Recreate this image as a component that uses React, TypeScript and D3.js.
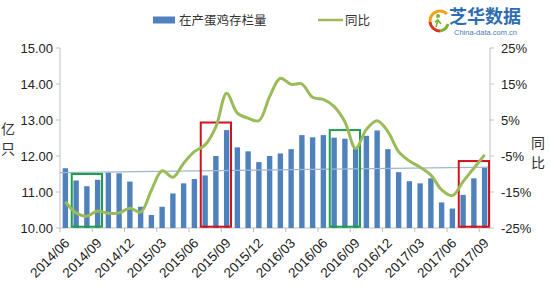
import React from "react";
import * as d3 from "d3";

const months = [
  "2014/06","2014/07","2014/08","2014/09","2014/10","2014/11","2014/12",
  "2015/01","2015/02","2015/03","2015/04","2015/05","2015/06","2015/07","2015/08","2015/09","2015/10","2015/11","2015/12",
  "2016/01","2016/02","2016/03","2016/04","2016/05","2016/06","2016/07","2016/08","2016/09","2016/10","2016/11","2016/12",
  "2017/01","2017/02","2017/03","2017/04","2017/05","2017/06","2017/07","2017/08","2017/09",
];

const stock = [
  11.66, 11.32, 11.16, 11.34, 11.54, 11.52, 11.29,
  10.59, 10.36, 10.59, 10.96, 11.24, 11.36, 11.46, 12.0, 12.72, 12.24, 12.13, 11.83,
  12.0, 12.07, 12.19, 12.58, 12.52, 12.58, 12.51, 12.48, 12.21, 12.56, 12.71, 12.19,
  11.55, 11.3, 11.24, 11.38, 10.71, 10.54, 10.92, 11.38, 11.68,
];

const yoy = [
  -17.7, -20.8, -21.7, -20.3, -20.9, -20.8, -19.5,
  -20.6, -14.5, -9.1, -10.9, -7.0, -3.8, -1.9, 3.1, 12.4, 6.9, 5.5, 4.8,
  11.5, 16.6, 14.9, 15.0, 11.3, 10.7, 8.7, 4.5, -2.9, 2.4, 4.8, 1.8,
  -3.8, -6.4, -8.1, -10.3, -14.4, -16.0, -12.1, -8.4, -4.7,
];

const leftTicks = [10, 11, 12, 13, 14, 15];
const rightTicks = [-25, -15, -5, 5, 15, 25];
const labelEvery = 3;

// trend line endpoints (left edge value, right edge value)
const trendEnds = [11.54, 11.69];

// highlight boxes: first category, last category, top value, color
const boxStart = [1, 13, 25, 37];
const boxEnd = [3, 15, 27, 39];
const boxTop = [11.5, 12.93, 12.72, 11.86];
const boxColor = ["#1E9E4A", "#D0141E", "#1E9E4A", "#D0141E"];

const W = 550, H = 300;
const L = 60, R = 490, T = 48, B = 228;

export default function App() {
  const x = d3.scaleBand<string>().domain(months).range([L, R]).paddingInner(0.5).paddingOuter(0.25);
  const step = x.step();
  const cx = (m: string) => (x(m) as number) + x.bandwidth() / 2;
  const yL = d3.scaleLinear().domain([10, 15]).range([B, T]);
  const yR = d3.scaleLinear().domain([-25, 25]).range([B, T]);

  const line = d3
    .line<number>()
    .x((_, i) => cx(months[i]))
    .y((d) => yR(d))
    .curve(d3.curveCatmullRom.alpha(0.5));

  const font = "Liberation Sans, Arial, sans-serif";
  const cjk = "'Noto Sans CJK SC', sans-serif";
  const axisColor = "#BFBFBF";

  return (
    <svg width={W} height={H} style={{ position: "absolute", left: 0, top: 0, background: "#fff" }}>
      {/* legend */}
      <rect x={153} y={16.5} width={22} height={7} fill="#4F81BD" />
      <text x={179} y={24.5} fontSize={12.5} fontFamily={cjk} fill="#333">在产蛋鸡存栏量</text>
      <line x1={318} x2={343} y1={20} y2={20} stroke="#9BBB59" strokeWidth={2.5} />
      <text x={345} y={24.5} fontSize={12.5} fontFamily={cjk} fill="#333">同比</text>

      {/* logo */}
      <g>
        <path d="M430,22 A10,10 0 0 1 447,14" fill="none" stroke="#F2A01E" strokeWidth={3} />
        <path d="M430,22 A10,10 0 0 0 440,31" fill="none" stroke="#D9381E" strokeWidth={3} />
        <path d="M440,31 A10,10 0 0 0 448,24" fill="none" stroke="#7BB531" strokeWidth={3} />
        <circle cx={438} cy={16} r={2} fill="#7BB531" />
        <path d="M436,27 L438,20 L441,24 M438,20 L435,22" fill="none" stroke="#7BB531" strokeWidth={1.6} />
        <text x={449} y={23} fontSize={18} fontWeight="bold" fontFamily={cjk} fill="#2F6DB3">芝华数据</text>
        <text x={454} y={35} fontSize={7.5} fontFamily={font} fill="#4A7DB8">China-data.com.cn</text>
      </g>

      {/* axes */}
      <line x1={L} x2={L} y1={T} y2={B} stroke={axisColor} />
      <line x1={R} x2={R} y1={T} y2={B} stroke={axisColor} />
      <line x1={L} x2={R} y1={B} y2={B} stroke={axisColor} />
      {leftTicks.map((t) => (
        <g key={"l" + t}>
          <line x1={L - 4} x2={L} y1={yL(t)} y2={yL(t)} stroke={axisColor} />
          <text x={53} y={yL(t)} dy="0.35em" textAnchor="end" fontSize={13} fontFamily={font} fill="#222">
            {t.toFixed(2)}
          </text>
        </g>
      ))}
      {rightTicks.map((t) => (
        <g key={"r" + t}>
          <line x1={R} x2={R + 4} y1={yR(t)} y2={yR(t)} stroke={axisColor} />
          <text x={501} y={yR(t)} dy="0.35em" textAnchor="start" fontSize={13} fontFamily={font} fill="#222">
            {t + "%"}
          </text>
        </g>
      ))}
      {months.map((m, i) =>
        i % labelEvery === 0 ? (
          <g key={"x" + m}>
            <line x1={L + i * step} x2={L + i * step} y1={B} y2={B + 4} stroke={axisColor} />
            <text
              transform={`translate(${cx(m) + 5},${B + 16}) rotate(-45)`}
              textAnchor="end"
              fontSize={13.5}
              fontFamily={font}
              fill="#222"
            >
              {m}
            </text>
          </g>
        ) : null
      )}

      {/* axis titles */}
      <text x={8} y={134} textAnchor="middle" fontSize={14} fontFamily={cjk} fill="#333">亿</text>
      <text x={8} y={154} textAnchor="middle" fontSize={14} fontFamily={cjk} fill="#333">只</text>
      <text x={538} y={148} textAnchor="middle" fontSize={14} fontFamily={cjk} fill="#333">同</text>
      <text x={538} y={168} textAnchor="middle" fontSize={14} fontFamily={cjk} fill="#333">比</text>

      {/* bars */}
      {stock.map((v, i) => (
        <rect
          key={"b" + i}
          x={x(months[i]) as number}
          y={yL(v)}
          width={x.bandwidth()}
          height={B - yL(v)}
          fill="#4F81BD"
        />
      ))}

      {/* trend line */}
      <line x1={L} x2={R} y1={yL(trendEnds[0])} y2={yL(trendEnds[1])} stroke="#9FB6D0" strokeWidth={1.2} />

      {/* highlight boxes */}
      {boxStart.map((s, k) => {
        const x0 = (x(months[s]) as number) - step * 0.25 + 1;
        const x1 = (x(months[boxEnd[k]]) as number) + x.bandwidth() + step * 0.25 - 1;
        const y0 = yL(boxTop[k]);
        return (
          <rect key={"box" + k} x={x0} y={y0} width={x1 - x0} height={B - 1.3 - y0} fill="none" stroke={boxColor[k]} strokeWidth={2} />
        );
      })}

      {/* yoy line */}
      <path d={line(yoy) || ""} fill="none" stroke="#9BBB59" strokeWidth={3} strokeLinejoin="round" />
    </svg>
  );
}
